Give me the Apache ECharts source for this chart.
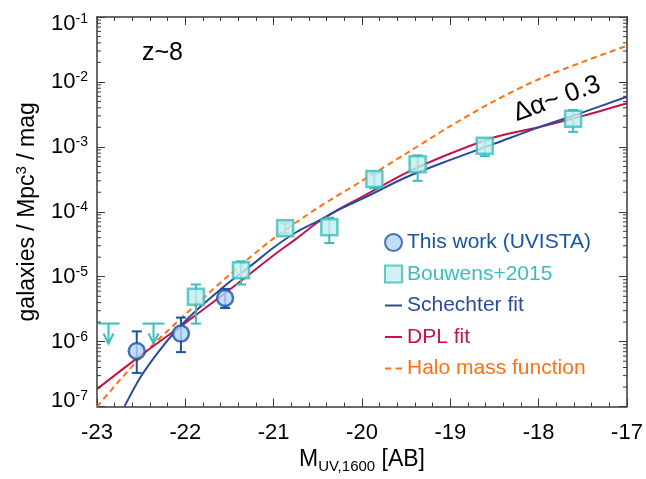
<!DOCTYPE html>
<html>
<head>
<meta charset="utf-8">
<title>UV luminosity function z~8</title>
<script src="https://cdn.jsdelivr.net/npm/echarts@6/dist/echarts.min.js"></script>
<style>
  html, body { margin: 0; padding: 0; background: #fff; }
  #chart { width: 646px; height: 479px; }
</style>
</head>
<body>
<div id="chart"></div>
<script>
// points (phi in galaxies / Mpc^3 / mag)
var uvistaM   = [-22.55, -22.05, -21.55];
var uvistaPhi = [7.2e-7, 1.33e-6, 4.7e-6];
var uvistaLo  = [3.3e-7, 6.9e-7, 3.3e-6];
var uvistaHi  = [1.44e-6, 2.35e-6, 6.5e-6];

var bouwensM   = [-21.88, -21.37, -20.87, -20.37, -19.86, -19.37, -18.61, -17.61];
var bouwensPhi = [4.9e-6, 1.26e-5, 5.6e-5, 5.8e-5, 3.2e-4, 5.4e-4, 1.04e-3, 2.7e-3];
var bouwensLo  = [1.9e-6, 7.6e-6, 4.6e-5, 3.3e-5, 2.3e-4, 3.0e-4, 7.2e-4, 1.7e-3];
var bouwensHi  = [7.6e-6, 1.73e-5, 6.6e-5, 8.1e-5, 3.9e-4, 7.4e-4, 1.25e-3, 3.7e-3];

// Bouwens upper limits
var limitM   = [-22.87, -22.36];
var limitPhi = [1.9e-6, 1.9e-6];

// fitted curves
var schM   = [-22.69, -22.5, -22.3, -22.1, -21.9, -21.7, -21.5, -21.25, -21.0, -20.75, -20.5, -20.25, -20.0, -19.5, -19.0, -18.5, -18.0, -17.5, -17.0];
var schPhi = [1.0e-7, 2.95e-7, 7.1e-7, 1.51e-6, 2.82e-6, 4.9e-6, 8.3e-6, 1.51e-5, 2.82e-5, 4.8e-5, 7.2e-5, 1.10e-4, 1.58e-4, 3.4e-4, 6.3e-4, 1.12e-3, 2.0e-3, 3.4e-3, 5.9e-3];

var dplM   = [-23.0, -22.5, -22.0, -21.5, -21.0, -20.75, -20.5, -20.25, -20.0, -19.5, -19.0, -18.5, -18.0, -17.5, -17.0];
var dplPhi = [1.86e-7, 6.2e-7, 1.95e-6, 6.3e-6, 2.14e-5, 3.8e-5, 6.9e-5, 1.12e-4, 1.70e-4, 3.98e-4, 7.9e-4, 1.41e-3, 2.0e-3, 3.0e-3, 4.7e-3];

var haloM   = [-23.0, -22.5, -22.0, -21.5, -21.0, -20.5, -20.0, -19.5, -19.0, -18.5, -18.0, -17.5, -17.0];
var haloPhi = [1.0e-7, 5.9e-7, 2.63e-6, 1.07e-5, 3.9e-5, 1.15e-4, 3.0e-4, 7.9e-4, 2.09e-3, 5.1e-3, 1.10e-2, 2.04e-2, 3.6e-2];

var FONT = '"Liberation Sans", Arial, Helvetica, sans-serif';
var AXIS = '#3a3a3a';
var C_UV = '#1b55a0', C_UV_FILL = '#b4d5f6';
var C_BW = '#3bbdbd', C_BW_FILL = '#c6eeee';
var C_SCH = '#2b4a98', C_DPL = '#c2134b', C_HALO = '#ff7012';

function lg(v) { return Math.log10(v); }
function pairs(xs, ys) { return xs.map(function (x, i) { return [x, lg(ys[i])]; }); }

// log minor tick positions (2..9 in each decade)
var minorTicks = [];
for (var d = -7; d < -1; d++) {
  for (var k = 2; k <= 9; k++) minorTicks.push([-20, d + Math.log10(k)]);
}

function errorBars(xs, lo, hi, color) {
  return {
    type: 'custom',
    z: 3,
    silent: true,
    data: xs.map(function (x, i) { return [x, lg(lo[i]), lg(hi[i])]; }),
    renderItem: function (params, api) {
      var t = api.coord([api.value(0), api.value(2)]);
      var b = api.coord([api.value(0), api.value(1)]);
      var w = 5, st = { stroke: color, lineWidth: 2 };
      return {
        type: 'group',
        children: [
          { type: 'line', shape: { x1: t[0], y1: t[1], x2: b[0], y2: b[1] }, style: st },
          { type: 'line', shape: { x1: t[0] - w, y1: t[1], x2: t[0] + w, y2: t[1] }, style: st },
          { type: 'line', shape: { x1: b[0] - w, y1: b[1], x2: b[0] + w, y2: b[1] }, style: st }
        ]
      };
    }
  };
}

var chart = echarts.init(document.getElementById('chart'), null, { renderer: 'canvas' });

var xAxisBase = {
  type: 'value', min: -23, max: -17, interval: 1,
  axisLine: { show: true, lineStyle: { color: AXIS, width: 1.5 } },
  axisTick: { show: true, inside: true, length: 8, lineStyle: { color: AXIS, width: 1 } },
  minorTick: { show: true, splitNumber: 5, length: 4, lineStyle: { color: AXIS, width: 1 } },
  splitLine: { show: false },
  minorSplitLine: { show: false }
};
var yAxisBase = {
  type: 'value', min: -7, max: -1, interval: 1,
  axisLine: { show: true, lineStyle: { color: AXIS, width: 1.5 } },
  axisTick: { show: true, inside: true, length: 8, lineStyle: { color: AXIS, width: 1 } },
  splitLine: { show: false }
};

var LINE_ICON = 'path://M0,0H17V2H0Z';
var DASH_ICON = 'path://M0,0H6V2H0Z M10,0H16V2H10Z';

var option = {
  animation: false,
  backgroundColor: '#fff',
  grid: { left: 97, right: 19, top: 14, bottom: 66, containLabel: false },
  xAxis: [
    Object.assign({}, xAxisBase, {
      position: 'bottom',
      axisLabel: { margin: 15, fontSize: 22, color: '#000', fontFamily: FONT },
      name: '{m|M}{u|UV,1600}{m| [AB]}',
      nameLocation: 'middle',
      nameGap: 35,
      nameTextStyle: {
        fontFamily: FONT, color: '#000',
        rich: {
          m: { fontSize: 23, lineHeight: 28, fontFamily: FONT, color: '#000' },
          u: { fontSize: 15, lineHeight: 12, verticalAlign: 'bottom', fontFamily: FONT, color: '#000' }
        }
      }
    }),
    Object.assign({}, xAxisBase, { position: 'top', axisLabel: { show: false } })
  ],
  yAxis: [
    Object.assign({}, yAxisBase, {
      position: 'left',
      axisLabel: {
        margin: 9,
        fontFamily: FONT,
        formatter: function (v) {
          var s = '{a|10}{s|' + v + '}';
          if (v === -1) return '{g|}\n' + s;
          if (v === -7) return s + '\n{h|}';
          return s;
        },
        rich: {
          a: { fontSize: 22, lineHeight: 24, color: '#000', fontFamily: FONT },
          s: { fontSize: 14, lineHeight: 13, verticalAlign: 'top', color: '#000', fontFamily: FONT },
          g: { fontSize: 10, lineHeight: 14 },
          h: { fontSize: 10, lineHeight: 11 }
        }
      },
      name: '{a|galaxies / Mpc}{s|3}{a| / mag}',
      nameLocation: 'middle',
      nameGap: 55,
      nameTextStyle: {
        fontFamily: FONT, color: '#000',
        rich: {
          a: { fontSize: 23, lineHeight: 28, fontFamily: FONT, color: '#000' },
          s: { fontSize: 15, lineHeight: 14, verticalAlign: 'top', fontFamily: FONT, color: '#000' }
        }
      }
    }),
    Object.assign({}, yAxisBase, { position: 'right', axisLabel: { show: false } })
  ],
  legend: {
    orient: 'vertical',
    left: 384,
    top: 232,
    padding: 0,
    itemGap: 10.5,
    itemWidth: 17,
    itemHeight: 17,
    symbolKeepAspect: true,
    selectedMode: false,
    textStyle: { fontSize: 21, lineHeight: 21, fontFamily: FONT },
    data: [
      { name: 'This work (UVISTA)', icon: 'circle', textStyle: { color: C_UV } },
      { name: 'Bouwens+2015', icon: 'rect', textStyle: { color: C_BW } },
      { name: 'Schechter fit', icon: LINE_ICON, itemStyle: { color: C_SCH, borderWidth: 0 }, textStyle: { color: C_SCH } },
      { name: 'DPL fit', icon: LINE_ICON, itemStyle: { color: C_DPL, borderWidth: 0 }, textStyle: { color: C_DPL } },
      { name: 'Halo mass function', icon: DASH_ICON, itemStyle: { color: C_HALO, borderWidth: 0 }, textStyle: { color: C_HALO } }
    ]
  },
  graphic: [
    {
      type: 'text', x: 142, y: 53, silent: true,
      style: { text: 'z~8', font: '25px ' + FONT, fill: '#000', align: 'left', verticalAlign: 'middle' }
    },
    {
      type: 'text', x: 557, y: 99, rotation: 20 * Math.PI / 180, silent: true,
      style: { text: '\u0394\u03b1~ 0.3', font: '26px ' + FONT, fill: '#000', align: 'center', verticalAlign: 'middle' }
    }
  ],
  series: [
    {
      name: 'Halo mass function', type: 'line', z: 2, symbol: 'none', smooth: 0.3, silent: true,
      lineStyle: { color: C_HALO, width: 2, type: [6, 4] },
      itemStyle: { color: C_HALO },
      data: pairs(haloM, haloPhi)
    },
    {
      name: 'DPL fit', type: 'line', z: 2, symbol: 'none', smooth: 0.3, silent: true,
      lineStyle: { color: C_DPL, width: 2 },
      itemStyle: { color: C_DPL },
      data: pairs(dplM, dplPhi)
    },
    {
      name: 'Schechter fit', type: 'line', z: 2, symbol: 'none', smooth: 0.3, silent: true,
      lineStyle: { color: C_SCH, width: 2 },
      itemStyle: { color: C_SCH },
      data: pairs(schM, schPhi)
    },
    errorBars(bouwensM, bouwensLo, bouwensHi, C_BW),
    errorBars(uvistaM, uvistaLo, uvistaHi, C_UV),
    {
      type: 'custom', z: 3, silent: true,
      data: pairs(limitM, limitPhi),
      renderItem: function (params, api) {
        var p = api.coord([api.value(0), api.value(1)]);
        var st = { stroke: C_BW, lineWidth: 2 };
        var tip = p[1] + 20;
        return {
          type: 'group',
          children: [
            { type: 'line', shape: { x1: p[0] - 11, y1: p[1], x2: p[0] + 11, y2: p[1] }, style: st },
            { type: 'line', shape: { x1: p[0], y1: p[1], x2: p[0], y2: tip }, style: st },
            { type: 'polyline', shape: { points: [[p[0] - 5, tip - 10], [p[0], tip], [p[0] + 5, tip - 10]] }, style: { stroke: C_BW, lineWidth: 2, fill: null } }
          ]
        };
      }
    },
    {
      name: 'Bouwens+2015', type: 'scatter', z: 4, symbol: 'rect', symbolSize: 16, silent: true,
      itemStyle: { color: C_BW_FILL, borderColor: C_BW, borderWidth: 2.5 },
      data: pairs(bouwensM, bouwensPhi)
    },
    {
      name: 'This work (UVISTA)', type: 'scatter', z: 4, symbol: 'circle', symbolSize: 16, silent: true,
      itemStyle: { color: C_UV_FILL, borderColor: C_UV, borderWidth: 2.5 },
      data: pairs(uvistaM, uvistaPhi)
    },
    {
      // log-scale minor ticks on left and right frame
      type: 'custom', z: 5, silent: true,
      data: minorTicks,
      renderItem: function (params, api) {
        var cs = params.coordSys;
        var y = api.coord([api.value(0), api.value(1)])[1];
        var st = { stroke: AXIS, lineWidth: 1 };
        return {
          type: 'group',
          children: [
            { type: 'line', shape: { x1: cs.x, y1: y, x2: cs.x + 4, y2: y }, style: st },
            { type: 'line', shape: { x1: cs.x + cs.width - 4, y1: y, x2: cs.x + cs.width, y2: y }, style: st }
          ]
        };
      }
    }
  ]
};

chart.setOption(option);
</script>
</body>
</html>
